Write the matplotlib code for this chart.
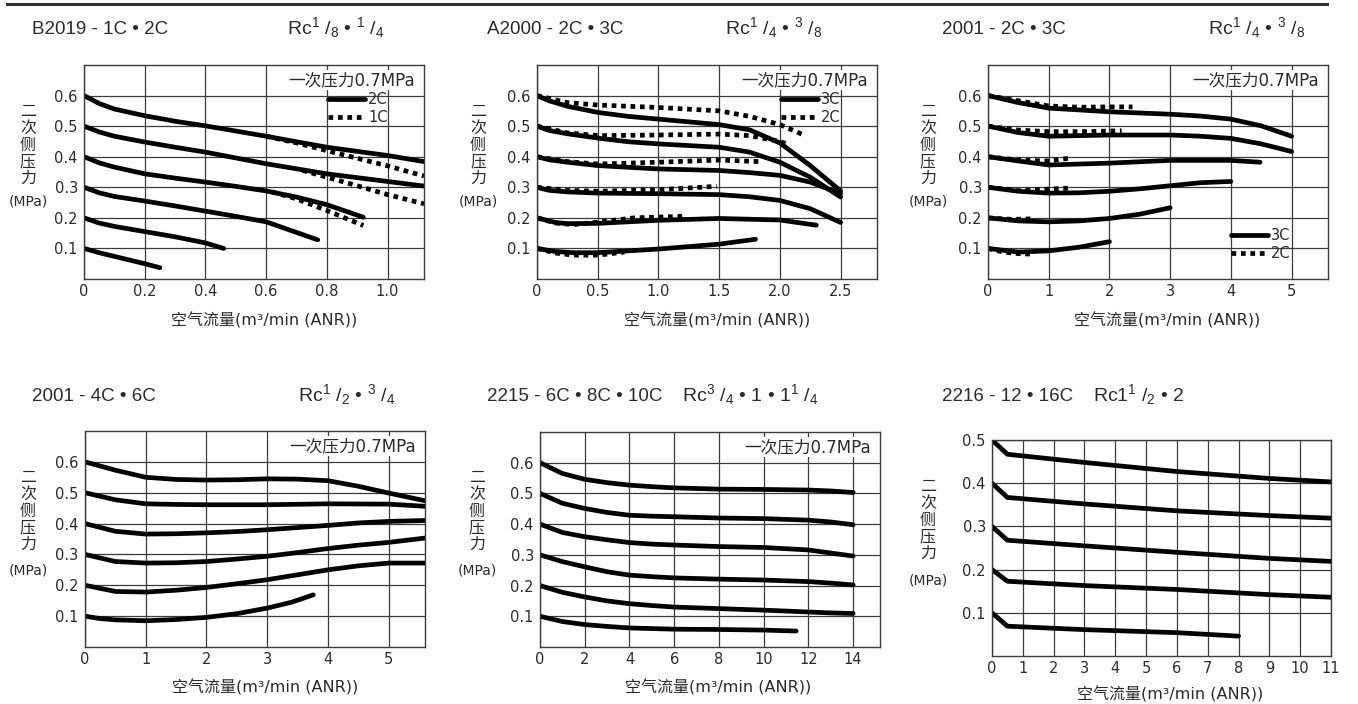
import matplotlib
matplotlib.use('Agg')
import matplotlib.pyplot as plt
from matplotlib.lines import Line2D

W, H = 1358, 704
GRID = '#3c3c3c'
TXT = '#2a2a2a'
LATIN = ['DejaVu Sans', 'Noto Sans CJK SC']
CJK = ['Noto Sans CJK SC', 'DejaVu Sans']
NARROW = ['Liberation Sans Narrow', 'Liberation Sans', 'DejaVu Sans']

plt.rcParams['font.family'] = LATIN
plt.rcParams['mathtext.fontset'] = 'custom'
plt.rcParams['mathtext.rm'] = 'Liberation Sans'
plt.rcParams['mathtext.it'] = 'Liberation Sans'
plt.rcParams['mathtext.bf'] = 'Liberation Sans'

# ---- B2019-1C・2C (2C solid, 1C dotted)
b2019_2c_x = [[0, 0.05, 0.1, 0.2, 0.3, 0.4, 0.6, 0.8, 1.0, 1.12],
              [0, 0.05, 0.1, 0.2, 0.3, 0.4, 0.6, 0.8, 1.0, 1.12],
              [0, 0.05, 0.1, 0.2, 0.3, 0.4, 0.5, 0.6, 0.7, 0.8, 0.92],
              [0, 0.05, 0.1, 0.2, 0.3, 0.4, 0.5, 0.6, 0.77],
              [0, 0.05, 0.1, 0.2, 0.3, 0.4, 0.46],
              [0, 0.05, 0.1, 0.2, 0.25]]
b2019_2c_y = [[0.6, 0.574, 0.556, 0.534, 0.516, 0.501, 0.467, 0.431, 0.404, 0.384],
              [0.5, 0.481, 0.467, 0.448, 0.431, 0.415, 0.377, 0.344, 0.319, 0.304],
              [0.4, 0.38, 0.366, 0.344, 0.33, 0.317, 0.303, 0.288, 0.268, 0.243, 0.202],
              [0.3, 0.282, 0.27, 0.255, 0.239, 0.222, 0.205, 0.187, 0.128],
              [0.2, 0.183, 0.172, 0.155, 0.138, 0.118, 0.1],
              [0.1, 0.086, 0.074, 0.05, 0.037]]
b2019_1c_x = [[0.6, 0.7, 0.8, 0.9, 1.0, 1.12],
              [0.72, 0.8, 0.9, 1.0, 1.12],
              [0.62, 0.7, 0.8, 0.92]]
b2019_1c_y = [[0.467, 0.445, 0.42, 0.395, 0.37, 0.337],
              [0.355, 0.333, 0.305, 0.276, 0.246],
              [0.285, 0.262, 0.224, 0.175]]

# ---- A2000-2C・3C (3C solid, 2C dotted)
a2000_3c_x = [[0, 0.1, 0.25, 0.5, 0.75, 1.0, 1.5, 1.75, 2.0, 2.25, 2.5],
              [0, 0.1, 0.25, 0.5, 0.75, 1.0, 1.5, 1.75, 2.0, 2.25, 2.5],
              [0, 0.1, 0.25, 0.5, 1.0, 1.5, 1.75, 2.0, 2.25, 2.5],
              [0, 0.1, 0.25, 0.5, 1.0, 1.5, 1.75, 2.0, 2.25, 2.5],
              [0, 0.15, 0.25, 0.5, 1.0, 1.5, 2.0, 2.3],
              [0, 0.15, 0.3, 0.5, 1.0, 1.5, 1.8]]
a2000_3c_y = [[0.6, 0.583, 0.565, 0.545, 0.532, 0.523, 0.505, 0.488, 0.445, 0.371, 0.288],
              [0.5, 0.486, 0.475, 0.461, 0.449, 0.442, 0.431, 0.415, 0.382, 0.333, 0.268],
              [0.4, 0.39, 0.382, 0.371, 0.36, 0.355, 0.348, 0.339, 0.317, 0.279],
              [0.3, 0.29, 0.285, 0.281, 0.279, 0.276, 0.269, 0.257, 0.23, 0.185],
              [0.2, 0.185, 0.181, 0.182, 0.192, 0.198, 0.193, 0.176],
              [0.1, 0.09, 0.086, 0.086, 0.098, 0.114, 0.13]]
a2000_2c_x = [[0, 0.25, 0.5, 1.0, 1.5, 1.75, 2.0, 2.18],
              [0, 0.25, 0.5, 1.0, 1.5, 1.75, 2.0, 2.08],
              [0, 0.25, 0.5, 1.0, 1.5, 1.83],
              [0, 0.25, 0.5, 1.0, 1.48],
              [0, 0.15, 0.3, 0.5, 0.8, 1.2],
              [0, 0.15, 0.3, 0.5, 0.72]]
a2000_2c_y = [[0.6, 0.577, 0.569, 0.561, 0.55, 0.532, 0.505, 0.474],
              [0.5, 0.478, 0.469, 0.471, 0.474, 0.469, 0.45, 0.438],
              [0.4, 0.384, 0.376, 0.382, 0.389, 0.384],
              [0.3, 0.29, 0.287, 0.292, 0.303],
              [0.2, 0.183, 0.178, 0.186, 0.2, 0.205],
              [0.1, 0.085, 0.078, 0.078, 0.088]]

# ---- 2001-2C・3C (3C solid, 2C dotted)
s2001_3c_x = [[0, 0.5, 1, 2, 3, 3.5, 4, 4.5, 5],
              [0, 0.5, 1, 2, 3, 3.5, 4, 4.5, 5],
              [0, 0.5, 1, 2, 3, 4, 4.48],
              [0, 0.5, 1, 1.5, 2, 2.5, 3, 3.5, 4],
              [0, 0.5, 1, 1.5, 2, 2.5, 3],
              [0, 0.5, 1, 1.5, 2]]
s2001_3c_y = [[0.6, 0.577, 0.559, 0.547, 0.539, 0.533, 0.523, 0.501, 0.467],
              [0.5, 0.479, 0.467, 0.471, 0.471, 0.467, 0.46, 0.442, 0.417],
              [0.4, 0.386, 0.373, 0.379, 0.388, 0.388, 0.382],
              [0.3, 0.287, 0.281, 0.282, 0.287, 0.295, 0.305, 0.315, 0.319],
              [0.2, 0.19, 0.187, 0.19, 0.198, 0.212, 0.233],
              [0.1, 0.088, 0.092, 0.104, 0.122]]
s2001_2c_x = [[0, 0.5, 1, 1.5, 2, 2.38],
              [0, 0.5, 1, 1.5, 2, 2.2],
              [0, 0.5, 1, 1.33],
              [0, 0.5, 1, 1.33],
              [0, 0.4, 0.76],
              [0, 0.25, 0.5, 0.76]]
s2001_2c_y = [[0.6, 0.583, 0.566, 0.562, 0.563, 0.563],
              [0.5, 0.487, 0.482, 0.482, 0.484, 0.485],
              [0.4, 0.389, 0.386, 0.395],
              [0.3, 0.289, 0.294, 0.297],
              [0.2, 0.195, 0.197],
              [0.1, 0.088, 0.083, 0.081]]

# ---- 2001-4C・6C
s2001_6c_x = [[0, 0.5, 1, 1.5, 2, 2.5, 3, 3.5, 4, 4.5, 5, 5.6],
              [0, 0.5, 1, 1.5, 2, 3, 4, 5, 5.6],
              [0, 0.5, 1, 1.5, 2, 2.5, 3, 3.5, 4, 4.5, 5, 5.6],
              [0, 0.5, 1, 1.5, 2, 2.5, 3, 3.5, 4, 4.5, 5, 5.6],
              [0, 0.5, 1, 1.5, 2, 2.5, 3, 3.5, 4, 4.5, 5, 5.6],
              [0, 0.25, 0.5, 1, 1.5, 2, 2.5, 3, 3.4, 3.76]]
s2001_6c_y = [[0.6, 0.573, 0.55, 0.543, 0.541, 0.542, 0.545, 0.544, 0.539, 0.521, 0.499, 0.474],
              [0.5, 0.477, 0.464, 0.462, 0.461, 0.461, 0.464, 0.463, 0.456],
              [0.4, 0.375, 0.366, 0.367, 0.37, 0.374, 0.38, 0.387, 0.394, 0.402, 0.407, 0.41],
              [0.3, 0.277, 0.272, 0.273, 0.277, 0.285, 0.294, 0.306, 0.319, 0.33, 0.339, 0.353],
              [0.2, 0.18, 0.178, 0.184, 0.193, 0.205, 0.218, 0.234, 0.25, 0.263, 0.272, 0.272],
              [0.1, 0.092, 0.088, 0.085, 0.089, 0.096, 0.108, 0.126, 0.145, 0.169]]

# ---- 2215-6C・8C・10C
s2215_x = [[0, 1, 2, 3, 4, 5, 6, 8, 10, 12, 13, 14],
           [0, 1, 2, 3, 4, 5, 6, 8, 10, 12, 13, 14],
           [0, 1, 2, 3, 4, 5, 6, 8, 10, 12, 13, 14],
           [0, 1, 2, 3, 4, 5, 6, 8, 10, 12, 13, 14],
           [0, 1, 2, 3, 4, 5, 6, 8, 10, 12, 13, 14],
           [0, 1, 2, 3, 4, 5, 6, 8, 10, 11.45]]
s2215_y = [[0.6, 0.565, 0.546, 0.535, 0.527, 0.522, 0.518, 0.514, 0.513, 0.511, 0.508, 0.503],
           [0.5, 0.468, 0.451, 0.438, 0.429, 0.426, 0.424, 0.42, 0.418, 0.413, 0.407, 0.398],
           [0.4, 0.373, 0.359, 0.349, 0.34, 0.335, 0.332, 0.327, 0.324, 0.316, 0.306, 0.296],
           [0.3, 0.278, 0.261, 0.245, 0.234, 0.229, 0.225, 0.221, 0.218, 0.213, 0.208, 0.202],
           [0.2, 0.178, 0.163, 0.15, 0.141, 0.135, 0.13, 0.125, 0.12, 0.114, 0.111, 0.109],
           [0.1, 0.083, 0.073, 0.067, 0.062, 0.06, 0.058, 0.057, 0.055, 0.052]]

# ---- 2216-12・16C
s2216_x = [[0, 0.5, 3, 6, 9, 11],
           [0, 0.5, 3, 6, 9, 11],
           [0, 0.5, 3, 6, 9, 11],
           [0, 0.5, 3, 6, 9, 11],
           [0, 0.5, 3, 6, 8]]
s2216_y = [[0.5, 0.467, 0.448, 0.427, 0.411, 0.403],
           [0.4, 0.367, 0.352, 0.336, 0.325, 0.319],
           [0.3, 0.268, 0.255, 0.24, 0.226, 0.219],
           [0.2, 0.173, 0.163, 0.154, 0.142, 0.136],
           [0.1, 0.069, 0.061, 0.054, 0.046]]

titles = ['B2019 - 1C • 2C', 'A2000 - 2C • 3C', '2001 - 2C • 3C',
          '2001 - 4C • 6C', '2215 - 6C • 8C • 10C', '2216 - 12 • 16C']
rc_titles = [r'Rc$^{1}$ /$_{8}$ • $^{1}$ /$_{4}$',
             r'Rc$^{1}$ /$_{4}$ • $^{3}$ /$_{8}$',
             r'Rc$^{1}$ /$_{4}$ • $^{3}$ /$_{8}$',
             r'Rc$^{1}$ /$_{2}$ • $^{3}$ /$_{4}$',
             r'Rc$^{3}$ /$_{4}$ • 1 • 1$^{1}$ /$_{4}$',
             r'Rc1$^{1}$ /$_{2}$ • 2']
xlabel = '空气流量(m³/min (ANR))'
ylabel = '二\n次\n侧\n压\n力'
yunit = '(MPa)'
supply = '一次压力0.7MPa'

fig = plt.figure(figsize=(W / 100, H / 100), dpi=100)
fig.patch.set_facecolor('white')


def px_axes(l, t, r, b):
    return fig.add_axes([l / W, 1 - b / H, (r - l) / W, (b - t) / H])


def setup(ax, xmax, xticks, xlabels, ymax, yticks):
    ax.set_xlim(0, xmax)
    ax.set_ylim(0, ymax)
    ax.set_xticks(xticks)
    ax.set_xticklabels(xlabels)
    ax.set_yticks(yticks)
    ax.set_yticklabels([f'{v:.1f}' for v in yticks])
    ax.grid(True, color=GRID, lw=0.9)
    ax.set_axisbelow(True)
    ax.tick_params(length=0, labelsize=10.5, labelcolor=TXT)
    ax.tick_params(axis='x', pad=3.5)
    ax.tick_params(axis='y', pad=4.5)
    for s in ax.spines.values():
        s.set_color(GRID)
        s.set_linewidth(1.0)


def draw(ax, xs, ys, dotted=False, label=None):
    for i, (x, y) in enumerate(zip(xs, ys)):
        ax.plot(x, y, color='black', lw=3.4,
                ls=(0, (1, 1)) if dotted else '-',
                solid_capstyle='round', solid_joinstyle='round',
                dash_capstyle='butt', label=label if i == 0 else None)


def legend(ax, fx, fy):
    h, l = ax.get_legend_handles_labels()
    ax.legend(h[::-1], l[::-1], loc='upper left', bbox_to_anchor=(fx, fy),
              frameon=False, handlelength=2.5, handletextpad=0.25,
              labelspacing=0.25, borderpad=0, borderaxespad=0, fontsize=10.5,
              labelcolor=TXT)


def supply_note(ax):
    ax.text(0.974, 0.93, supply, transform=ax.transAxes, ha='right',
            va='center', fontsize=12, color=TXT, family=LATIN,
            bbox=dict(facecolor='white', edgecolor='none', pad=0.5))


def labels(ycx, ytop, yunit_y, xcx, xy):
    fig.text(ycx / W, 1 - ytop / H, ylabel, ha='center', va='top',
             fontsize=11.5, family=CJK, color=TXT, linespacing=0.98)
    fig.text(ycx / W, 1 - yunit_y / H, yunit, ha='center', va='center',
             fontsize=10, color=TXT)
    fig.text(xcx / W, 1 - xy / H, xlabel, ha='center', va='center',
             fontsize=11.5, family=LATIN, color=TXT)


# top rule
fig.add_artist(Line2D([7 / W, 1327 / W], [1 - 4 / H, 1 - 4 / H],
                      transform=fig.transFigure, color='#333333', lw=2.2))

# panel 1
ax1 = px_axes(84, 65, 424, 279)
setup(ax1, 1.12, [0, 0.2, 0.4, 0.6, 0.8, 1.0],
      ['0', '0.2', '0.4', '0.6', '0.8', '1.0'], 0.7,
      [0.1, 0.2, 0.3, 0.4, 0.5, 0.6])
draw(ax1, b2019_1c_x, b2019_1c_y, dotted=True, label='1C')
draw(ax1, b2019_2c_x, b2019_2c_y, label='2C')
legend(ax1, 0.718, 0.875)
supply_note(ax1)
labels(28, 103, 202, 264, 320)

# panel 2
ax2 = px_axes(537, 65, 877, 279)
setup(ax2, 2.8, [0, 0.5, 1.0, 1.5, 2.0, 2.5],
      ['0', '0.5', '1.0', '1.5', '2.0', '2.5'], 0.7,
      [0.1, 0.2, 0.3, 0.4, 0.5, 0.6])
draw(ax2, a2000_2c_x, a2000_2c_y, dotted=True, label='2C')
draw(ax2, a2000_3c_x, a2000_3c_y, label='3C')
legend(ax2, 0.718, 0.875)
supply_note(ax2)
labels(478, 103, 202, 717, 320)

# panel 3
ax3 = px_axes(988, 65, 1328, 279)
setup(ax3, 5.6, [0, 1, 2, 3, 4, 5], ['0', '1', '2', '3', '4', '5'], 0.7,
      [0.1, 0.2, 0.3, 0.4, 0.5, 0.6])
draw(ax3, s2001_2c_x, s2001_2c_y, dotted=True, label='2C')
draw(ax3, s2001_3c_x, s2001_3c_y, label='3C')
legend(ax3, 0.715, 0.24)
supply_note(ax3)
labels(928, 103, 202, 1167, 320)

# panel 4
ax4 = px_axes(85, 431, 425, 647)
setup(ax4, 5.6, [0, 1, 2, 3, 4, 5], ['0', '1', '2', '3', '4', '5'], 0.7,
      [0.1, 0.2, 0.3, 0.4, 0.5, 0.6])
draw(ax4, s2001_6c_x, s2001_6c_y)
supply_note(ax4)
labels(28, 469, 570, 265, 687)

# panel 5
ax5 = px_axes(540, 432, 880, 647)
setup(ax5, 15.2, [0, 2, 4, 6, 8, 10, 12, 14],
      ['0', '2', '4', '6', '8', '10', '12', '14'], 0.7,
      [0.1, 0.2, 0.3, 0.4, 0.5, 0.6])
draw(ax5, s2215_x, s2215_y)
supply_note(ax5)
labels(477, 469, 570, 718, 687)

# panel 6
ax6 = px_axes(992, 440, 1331, 656)
setup(ax6, 11, list(range(12)), [str(i) for i in range(12)], 0.5,
      [0.1, 0.2, 0.3, 0.4, 0.5])
draw(ax6, s2216_x, s2216_y)
labels(928, 478, 580, 1170, 694)

title_pos = [(32, 34), (487, 34), (942, 34), (32, 401), (487, 401), (942, 401)]
rc_pos = [(287, 34), (725, 34), (1208, 34), (298, 401), (682, 401), (1093, 401)]
for t, (x, y) in zip(titles, title_pos):
    fig.text(x / W, 1 - y / H, t, ha='left', va='baseline', fontsize=13.5,
             family=NARROW, color=TXT)
for t, (x, y) in zip(rc_titles, rc_pos):
    fig.text(x / W, 1 - y / H, t, ha='left', va='baseline', fontsize=14,
             family=NARROW, color=TXT)

fig.savefig('out.png', dpi=100, facecolor='white')
